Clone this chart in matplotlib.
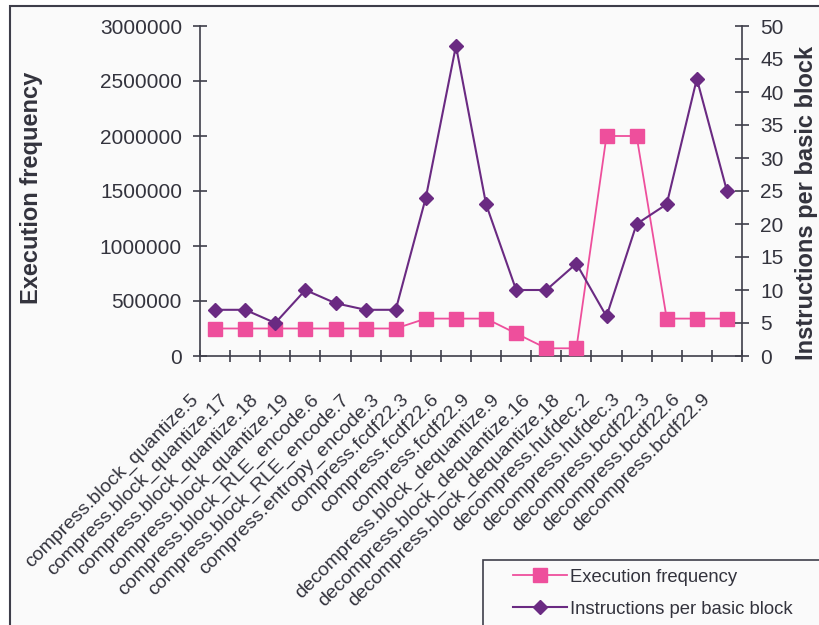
import numpy as np
import matplotlib
matplotlib.use('Agg')
import matplotlib.pyplot as plt
from matplotlib.patches import Rectangle
from matplotlib.transforms import blended_transform_factory

plt.rcParams['font.family'] = ['Liberation Sans', 'DejaVu Sans']

blocks = [
    'compress.block_quantize.5', 'compress.block_quantize.17',
    'compress.block_quantize.18', 'compress.block_quantize.19',
    'compress.block_RLE_encode.6', 'compress.block_RLE_encode.7',
    'compress.entropy_encode.3', 'compress.fcdf22.3', 'compress.fcdf22.6',
    'compress.fcdf22.9', 'decompress.block_dequantize.9',
    'decompress.block_dequantize.16', 'decompress.block_dequantize.18',
    'decompress.hufdec.2', 'decompress.hufdec.3', 'decompress.bcdf22.3',
    'decompress.bcdf22.6', 'decompress.bcdf22.9',
]
exec_freq = [250000, 250000, 250000, 250000, 250000, 250000, 250000,
             340000, 340000, 340000, 205000, 70000, 70000,
             2000000, 2000000, 340000, 340000, 340000]
instr_per_bb = [7, 7, 5, 10, 8, 7, 7, 24, 47, 23, 10, 10, 14, 6, 20, 23, 42, 25]

PINK = '#ee4f9c'
PURPLE = '#6a2a82'
DARK = '#3e3e4a'
TXT = '#33333d'

W, H = 819, 625
fig = plt.figure(figsize=(W / 100, H / 100), dpi=100, facecolor='white')

# outer chart frame (runs off the right and bottom edges)
fig.patches.append(Rectangle((10 / W, -0.05), 1.1, 1 - 6 / H + 0.05,
                             transform=fig.transFigure, facecolor='#fafafa',
                             edgecolor=DARK, linewidth=1.5, zorder=-2))
# legend box (also cut by the image edge)
fig.patches.append(Rectangle((483 / W, -0.05), 0.5, 1 - 560 / H + 0.05,
                             transform=fig.transFigure, facecolor='#fafafa',
                             edgecolor=DARK, linewidth=1.2, zorder=-1))

ax = fig.add_axes([200 / W, 1 - 356 / H, 542 / W, 330 / H])
ax.patch.set_alpha(0)
ax2 = ax.twinx()

x = np.arange(len(blocks))
ax.plot(x, exec_freq, color=PINK, lw=1.3, marker='s', ms=9.5,
        mec=PINK, mfc=PINK, label='Execution frequency', zorder=3)
ax2.plot(x, instr_per_bb, color=PURPLE, lw=1.5, marker='D', ms=7.5,
         mec=PURPLE, mfc=PURPLE, label='Instructions per basic block', zorder=4)

ax.set_xlim(-0.5, len(blocks) - 0.5)
ax.set_ylim(0, 3000000)
ax2.set_ylim(0, 50)
ax.set_yticks(np.arange(0, 3000001, 500000))
ax.ticklabel_format(axis='y', style='plain', useOffset=False)
ax2.set_yticks(np.arange(0, 51, 5))
ax.set_xticks(np.arange(-0.5, len(blocks), 1.0))
ax.set_xticklabels([])

for a in (ax, ax2):
    for s in a.spines.values():
        s.set_visible(False)
ax.spines['left'].set_visible(True)
ax.spines['bottom'].set_visible(True)
ax2.spines['right'].set_visible(True)
for s in (ax.spines['left'], ax.spines['bottom'], ax2.spines['right']):
    s.set_color(DARK)
    s.set_linewidth(1.2)

ax.tick_params(axis='y', direction='inout', length=10, width=1.2, color=DARK,
               labelsize=15, labelcolor=TXT, pad=8)
ax2.tick_params(axis='y', direction='inout', length=10, width=1.2, color=DARK,
                labelsize=15, labelcolor=TXT, pad=8)
ax.tick_params(axis='x', direction='inout', length=9, width=1.2, color=DARK)

# category labels sit a little left of each category slot
lab_tr = blended_transform_factory(ax.transData, fig.transFigure)
for i, name in enumerate(blocks):
    ax.text(i - 0.84, 1 - 391 / H, name, transform=lab_tr,
            rotation=45, rotation_mode='anchor', ha='right', va='top',
            fontsize=14, color=TXT, clip_on=False)

fig.text(32 / W, 1 - 188 / H, 'Execution frequency', rotation=90,
         ha='center', va='center', fontsize=17, fontweight='bold', color=TXT)
fig.text(806 / W, 1 - 203 / H, 'Instructions per basic block', rotation=90,
         ha='center', va='center', fontsize=17, fontweight='bold', color=TXT)

h1, l1 = ax.get_legend_handles_labels()
h2, l2 = ax2.get_legend_handles_labels()
leg = fig.legend(h1 + h2, l1 + l2, loc='upper left',
                 bbox_to_anchor=(500 / W, 1 - 556 / H), frameon=False,
                 fontsize=13.3, handlelength=2.9, handletextpad=0.2,
                 labelspacing=0.8, borderpad=0.2)
for t in leg.get_texts():
    t.set_color(TXT)

fig.savefig('out.png', dpi=100, facecolor='white')
